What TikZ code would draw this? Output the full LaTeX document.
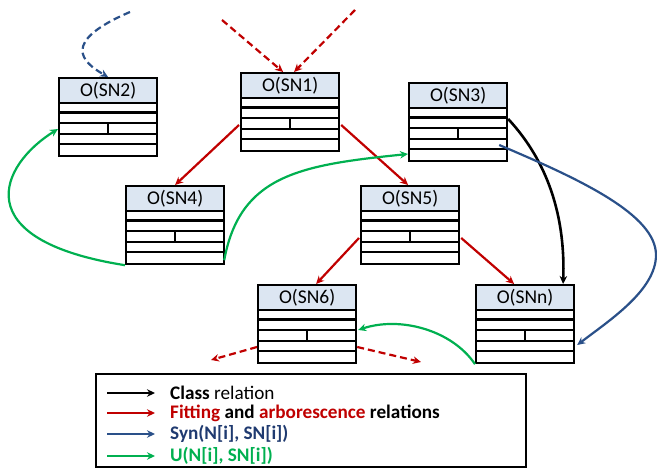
\documentclass[tikz,border=0pt]{standalone}
\usepackage{fontspec}
\setmainfont{Carlito}
\usetikzlibrary{calc,arrows.meta}
\definecolor{hdrblue}{HTML}{DCE6F2}
\definecolor{relred}{HTML}{C00000}
\definecolor{synblue}{HTML}{2A5089}
\definecolor{syntext}{HTML}{1F3A70}
\definecolor{ugreen}{HTML}{00B050}
\tikzset{
  objb/.style={draw, line width=2.2pt, fill=white, minimum width=98pt, minimum height=78pt, inner sep=0pt},
  objh/.style={draw, line width=2.2pt, fill=hdrblue, minimum width=98pt, minimum height=25pt, inner sep=0pt, font=\fontsize{19.5}{20}\selectfont},
  objl/.style={line width=2.2pt},
  tip/.style={-{Stealth[length=8pt,width=7.5pt]}},
  clsarr/.style={tip, line width=2.6pt, black},
  redarr/.style={tip, line width=2.2pt, relred},
  bluearr/.style={tip, line width=2.2pt, synblue},
  greenarr/.style={tip, line width=2.2pt, ugreen},
  dsh/.style={dash pattern=on 7pt off 4pt},
  legtext/.style={anchor=west, inner sep=0pt, font=\fontsize{19.2}{20}\selectfont\bfseries}
}
\newcommand\objbox[4]{%
  \node[objb, anchor=north west] (#1) at (#2,#3) {};
  \node[objh, anchor=north west] (#1h) at (#1.north west) {#4};
  \foreach \k in {1,2,3,4}
    \draw[objl] ($(#1.north west)+(0,{25+\k*10.6})$) -- ($(#1.north east)+(0,{25+\k*10.6})$);
  \draw[objl] ($(#1.north)+(0,{25+2*10.6})$) -- ($(#1.north)+(0,{25+3*10.6})$);
}
\begin{document}
\begin{tikzpicture}[x=1pt,y=-1pt]
\useasboundingbox (0,0) rectangle (657,473);
% boxes
\objbox{sn2}{58}{77}{O(SN2)}
\objbox{sn1}{240}{72}{O(SN1)}
\objbox{sn3}{408}{82}{O(SN3)}
\objbox{sn4}{125}{185}{O(SN4)}
\objbox{sn5}{360}{185}{O(SN5)}
\objbox{sn6}{257}{284}{O(SN6)}
\objbox{snn}{475}{284}{O(SNn)}
% free ends
\coordinate (topb) at (130,12);
\coordinate (topr1) at (222,20);
\coordinate (topr2) at (355,10);
\coordinate (outl) at (211,360);
\coordinate (outr) at (421,362);
% red fitting / arborescence relations
\draw[redarr] ($(sn1.north west)+(-1,53)$) -- (sn4.north);
\draw[redarr] ($(sn1.north east)+(1,53)$) -- ($(sn5.north)+(-2,0)$);
\draw[redarr] ($(sn5.north west)+(-1,53)$) -- ($(sn6.north)+(9,0)$);
\draw[redarr] ($(sn5.north east)+(1,53)$) -- ($(snn.north)+(-11,0)$);
% dashed incoming / outgoing
\draw[redarr, dsh] (topr1) -- ($(sn1.north)+(-7,0)$);
\draw[redarr, dsh] (topr2) -- ($(sn1.north)+(4,0)$);
\draw[bluearr, dsh] (topb) .. controls (60,42) and (82,62) .. ($(sn2.north)+(0,0)$);
\draw[redarr, dsh] ($(sn6.north west)+(0,63)$) -- (outl);
\draw[redarr, dsh] ($(sn6.north east)+(0,63)$) -- (outr);
% class relation
\draw[clsarr] ($(sn3.north east)+(0,37)$) .. controls (537,150) and (566,200) .. ($(snn.north)+(38,0)$);
% syn relation
\draw[bluearr] ($(sn3.north east)+(-9,63)$) .. controls (582,180) and (656,215) .. (656,255)
   .. controls (656,290) and (610,320) .. ($(snn.north east)+(2,61)$);
% U relations
\draw[greenarr] (sn4.south west) .. controls (-35,240) and (0,165) .. ($(sn2.north west)+(0,52)$);
\draw[greenarr] ($(sn4.south east)+(-1,-5)$) .. controls (240,175) and (300,165) .. ($(sn3.north west)+(0,72)$);
\draw[greenarr] (snn.south west) .. controls (452,330) and (400,316) .. ($(sn6.north east)+(1,46)$);
% legend
\node[draw, line width=1.6pt, fill=white, minimum width=430pt, minimum height=93pt, inner sep=0pt, anchor=north west] (leg) at (95,373) {};
\coordinate (la1) at ($(leg.north west)+(12,20)$);
\coordinate (lb1) at ($(leg.north west)+(60,20)$);
\coordinate (la2) at ($(leg.north west)+(12,40)$);
\coordinate (lb2) at ($(leg.north west)+(60,40)$);
\coordinate (la3) at ($(leg.north west)+(12,61)$);
\coordinate (lb3) at ($(leg.north west)+(60,61)$);
\coordinate (la4) at ($(leg.north west)+(12,83)$);
\coordinate (lb4) at ($(leg.north west)+(60,83)$);
\draw[tip, line width=2.2pt, black] (la1) -- (lb1);
\draw[redarr] (la2) -- (lb2);
\draw[bluearr] (la3) -- (lb3);
\draw[greenarr] (la4) -- (lb4);
\node[legtext] (t1) at ($(leg.north west)+(75,20)$) {Class \mdseries relation};
\node[legtext] (t2) at ($(leg.north west)+(75,40)$) {\textcolor{relred}{Fitting} and \textcolor{relred}{arborescence} relations};
\node[legtext, text=syntext] (t3) at ($(leg.north west)+(75,61)$) {Syn(N[i], SN[i])};
\node[legtext, text=ugreen] (t4) at ($(leg.north west)+(75,83)$) {U(N[i], SN[i])};
\end{tikzpicture}
\end{document}
